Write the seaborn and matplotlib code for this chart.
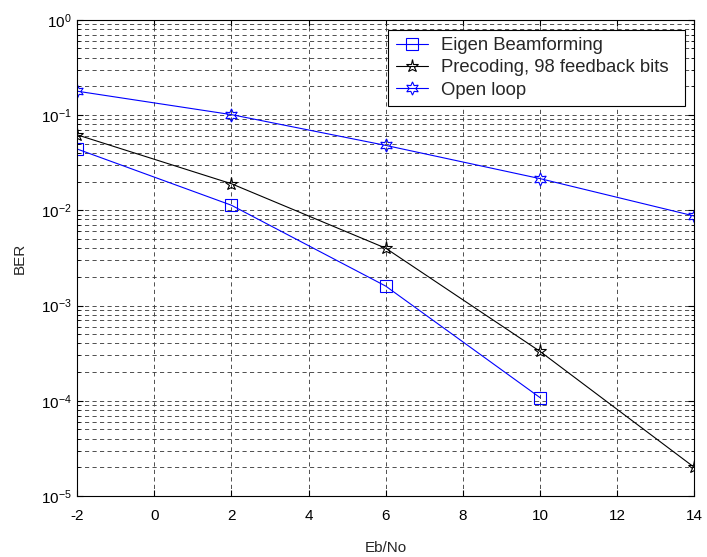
import numpy as np
import pandas as pd
import seaborn as sns
from matplotlib import pyplot as plt
from matplotlib.ticker import LogLocator, NullFormatter

ebno = [-2, 2, 6, 10, 14]
eigen_x = [-2, 2, 6, 10]
eigen_ber = [0.044, 0.0113, 0.0016, 0.000108]
precoding_ber = [0.062, 0.019, 0.0040, 0.00033, 0.00002]
openloop_ber = [0.178, 0.101, 0.048, 0.0215, 0.0087]

sns.set_style('ticks')
plt.rcParams['font.family'] = ['Liberation Sans', 'DejaVu Sans']
plt.rcParams['font.size'] = 11
plt.rcParams['axes.unicode_minus'] = False
plt.rcParams['xtick.direction'] = 'in'
plt.rcParams['ytick.direction'] = 'in'

fig = plt.figure(figsize=(7.07, 5.57), dpi=100)
ax = fig.add_axes([0.109, 0.1095, 0.873, 0.855])

series = [
    ('Eigen Beamforming', eigen_x, eigen_ber, 'blue', 's', 8),
    ('Precoding, 98 feedback bits', ebno, precoding_ber, 'black', '*', 9.5),
    ('Open loop', ebno, openloop_ber, 'blue', (6, 1, 0), 9.5),
]

for name, xs, ys, col, mk, ms in series:
    df = pd.DataFrame({'Eb/No': xs, 'BER': ys})
    sns.lineplot(data=df, x='Eb/No', y='BER', ax=ax, color=col, marker=mk,
                 markersize=ms, markerfacecolor='none', markeredgecolor=col,
                 markeredgewidth=0.8, linewidth=0.8, label=name)

ax.set_yscale('log')
ax.set_xlim(-2, 14)
ax.set_ylim(1e-5, 1)
ax.set_xticks(np.arange(-2, 15, 2))
ax.yaxis.set_major_locator(LogLocator(base=10, numticks=10))
ax.yaxis.set_minor_locator(LogLocator(base=10, subs=np.arange(2, 10), numticks=20))
ax.yaxis.set_minor_formatter(NullFormatter())

grid_kw = dict(color='0.2', linestyle=(0, (5, 4)), linewidth=0.6)
ax.grid(True, which='major', axis='both', **grid_kw)
ax.grid(True, which='minor', axis='y', **grid_kw)
ax.set_axisbelow(True)

ax.tick_params(which='both', top=True, right=True, colors='black', labelsize=11)
ax.tick_params(which='major', length=4)
ax.tick_params(which='minor', length=2.5)
ax.tick_params(axis='x', which='major', pad=9)
ax.tick_params(axis='y', which='major', pad=4)
for s in ax.spines.values():
    s.set_color('black')
    s.set_linewidth(0.8)

ax.set_xlabel('Eb/No', fontsize=11, labelpad=13)
ax.set_ylabel('BER', fontsize=11, labelpad=10)

# legend box spans roughly x 388..685 px, top at 30 px
leg = ax.legend(loc='upper right', bbox_to_anchor=(0.504, 0.5, 0.4814, 0.479),
                mode='expand', borderaxespad=0, fancybox=False,
                edgecolor='black', framealpha=1, fontsize=13.3, handlelength=1.75,
                handletextpad=0.7, borderpad=0.4, labelspacing=0.28)
leg.get_frame().set_linewidth(0.8)

fig.savefig('out.png', dpi=100)
